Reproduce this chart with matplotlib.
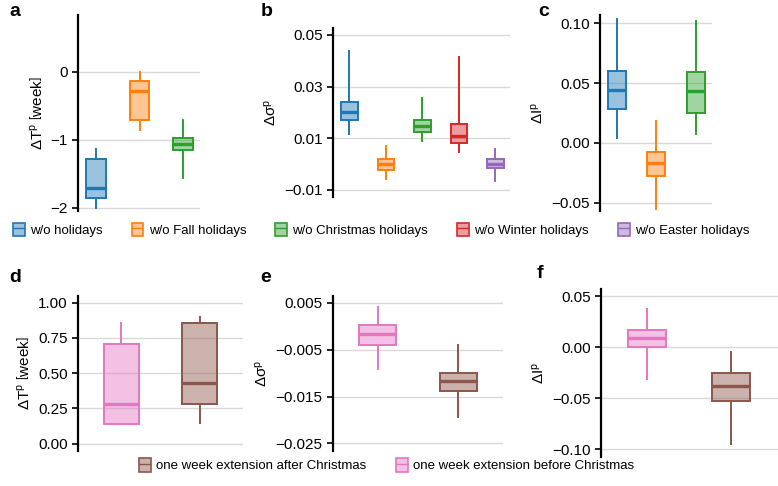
import numpy as np
import matplotlib.pyplot as plt
from matplotlib.patches import Patch
from matplotlib.lines import Line2D
from matplotlib.ticker import FuncFormatter
from matplotlib.colors import to_rgba

plt.rcParams['font.family'] = ['Liberation Sans', 'DejaVu Sans']
plt.rcParams['mathtext.fontset'] = 'custom'
plt.rcParams['mathtext.rm'] = 'Liberation Sans'
plt.rcParams['mathtext.it'] = 'Liberation Sans:italic'

# five-number summaries per box: (whisker low, q1, median, q3, whisker high)
top_names = ['w/o holidays', 'w/o Fall holidays', 'w/o Christmas holidays',
             'w/o Winter holidays', 'w/o Easter holidays']
top_colors = ['#1f77b4', '#ff7f0e', '#2ca02c', '#d62728', '#9467bd']

a_stats = [(-2.00, -1.86, -1.71, -1.28, -1.14),
           (-0.86, -0.72, -0.28, -0.14, 0.00),
           (-1.57, -1.15, -1.06, -0.98, -0.71)]
b_stats = [(0.0116, 0.0170, 0.0203, 0.0239, 0.0439),
           (-0.0059, -0.0022, 0.0001, 0.0021, 0.0072),
           (0.0088, 0.0125, 0.0148, 0.0171, 0.0254),
           (0.0048, 0.0083, 0.0109, 0.0156, 0.0414),
           (-0.0064, -0.0016, 0.0001, 0.0018, 0.0058)]
c_stats = [(0.0043, 0.0283, 0.0440, 0.0600, 0.1034),
           (-0.0556, -0.0280, -0.0170, -0.0075, 0.0180),
           (0.0076, 0.0253, 0.0432, 0.0594, 0.1020)]

bottom_names = ['one week extension before Christmas', 'one week extension after Christmas']
bottom_colors = ['#e377c2', '#8c564b']
d_stats = [(0.142, 0.142, 0.284, 0.709, 0.858),
           (0.147, 0.284, 0.430, 0.858, 0.898)]
e_stats = [(-0.0091, -0.0040, -0.0017, 0.0003, 0.0041),
           (-0.0193, -0.0139, -0.0117, -0.0100, -0.0040)]
f_stats = [(-0.0314, 0.0000, 0.0096, 0.0172, 0.0375),
           (-0.0944, -0.0527, -0.0380, -0.0252, -0.0045)]

label_T = r'$\Delta\mathrm{T}^{\mathrm{p}}\ \left[\mathrm{week}\right]$'
label_s = r'$\Delta\mathrm{\sigma}^{\mathrm{p}}$'
label_I = r'$\Delta\mathrm{I}^{\mathrm{p}}$'


def fmt(decimals):
    def f(v, pos):
        s = f'{v:.{decimals}f}'
        return s.replace('-', '\u2212')
    return FuncFormatter(f)


def draw(ax, stats, colors, xlim, ylim, yticks, dec, ylabel):
    bstats = []
    for lo, q1, med, q3, hi in stats:
        bstats.append(dict(whislo=lo, q1=q1, med=med, q3=q3, whishi=hi, fliers=[]))
    bp = ax.bxp(bstats, positions=np.arange(len(stats)), widths=0.45,
                patch_artist=True, showcaps=False, showfliers=False)
    for i, c in enumerate(colors):
        bp['boxes'][i].set(facecolor=to_rgba(c, 0.45), edgecolor=c, linewidth=1.4)
        bp['medians'][i].set(color=c, linewidth=2.4)
        for w in bp['whiskers'][2 * i:2 * i + 2]:
            w.set(color=c, linewidth=1.4)
    ax.set_xlim(*xlim)
    ax.set_ylim(*ylim)
    ax.set_yticks(yticks)
    ax.yaxis.set_major_formatter(fmt(dec))
    ax.set_xticks([])
    for s in ['top', 'right', 'bottom']:
        ax.spines[s].set_visible(False)
    ax.spines['left'].set_linewidth(1.6)
    ax.tick_params(axis='y', labelsize=11, length=4, width=1.2)
    ax.grid(axis='y', color='#d9d9d9', linewidth=1)
    ax.set_axisbelow(True)
    ax.set_ylabel(ylabel, fontsize=11)


fig = plt.figure(figsize=(7.78, 4.86), dpi=100)

ax_a = fig.add_axes([0.1003, 0.566, 0.157, 0.403])
ax_b = fig.add_axes([0.428, 0.5947, 0.2275, 0.348])
ax_c = fig.add_axes([0.7712, 0.566, 0.144, 0.403])
ax_d = fig.add_axes([0.1003, 0.072, 0.212, 0.319])
ax_e = fig.add_axes([0.428, 0.072, 0.2185, 0.319])
ax_f = fig.add_axes([0.7725, 0.0597, 0.227, 0.3457])

draw(ax_a, a_stats, top_colors[:3], (-0.42, 2.4), (-2.05, 0.83), [-2, -1, 0], 0, label_T)
draw(ax_b, b_stats, top_colors, (-0.45, 4.4), (-0.0127, 0.0527), [-0.01, 0.01, 0.03, 0.05], 2, label_s)
draw(ax_c, c_stats, top_colors[:3], (-0.42, 2.4), (-0.057, 0.107), [-0.05, 0, 0.05, 0.10], 2, label_I)
draw(ax_d, d_stats, bottom_colors, (-0.55, 1.55), (-0.052, 1.047), [0, 0.25, 0.5, 0.75, 1.0], 2, label_T)
draw(ax_e, e_stats, bottom_colors, (-0.55, 1.55), (-0.0266, 0.0064), [-0.025, -0.015, -0.005, 0.005], 3, label_s)
draw(ax_f, f_stats, bottom_colors, (-0.55, 1.55), (-0.1075, 0.0572), [-0.10, -0.05, 0, 0.05], 2, label_I)

for lab, x, y in [('a', 0.012, 0.977), ('b', 0.335, 0.977), ('c', 0.692, 0.977),
                  ('d', 0.012, 0.43), ('e', 0.335, 0.43), ('f', 0.69, 0.438)]:
    fig.text(x, y, lab, fontsize=14, fontweight='bold', ha='left', va='center')


def handle(c):
    return (Patch(facecolor=to_rgba(c, 0.45), edgecolor=c, linewidth=1.2),
            Line2D([], [], marker='_', markersize=9, color=c, linestyle='None'))


fig.legend([handle(c) for c in top_colors], top_names, loc='center', ncol=5,
           bbox_to_anchor=(0.49, 0.527), frameon=False, fontsize=9.5,
           handlelength=0.9, handleheight=1.2, handletextpad=0.4, columnspacing=2.2)
order = [1, 0]
fig.legend([handle(bottom_colors[i]) for i in order], [bottom_names[i] for i in order],
           loc='center', ncol=2, bbox_to_anchor=(0.497, 0.043), frameon=False, fontsize=9.5,
           handlelength=0.9, handleheight=1.2, handletextpad=0.4, columnspacing=2.2)

fig.savefig('out.png', dpi=100)
